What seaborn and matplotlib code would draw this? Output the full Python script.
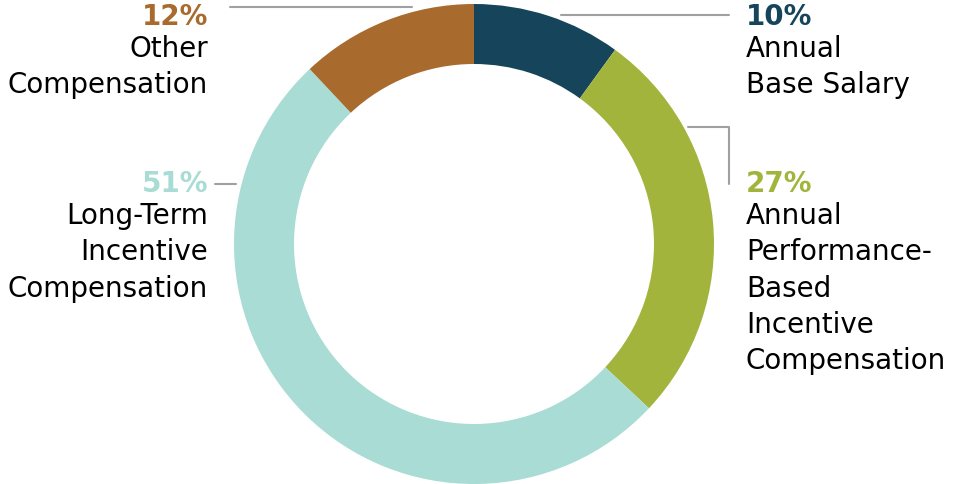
import matplotlib
matplotlib.use("Agg")
import matplotlib.pyplot as plt
import seaborn as sns

sns.set_style("white")
plt.rcParams['font.family'] = ['DejaVu Sans']

# Data
labels = ["Annual\nBase Salary",
          "Annual\nPerformance-\nBased\nIncentive\nCompensation",
          "Long-Term\nIncentive\nCompensation",
          "Other\nCompensation"]
shares = [10, 27, 51, 12]
colors = ["#16455b", "#a2b43c", "#a8dcd4", "#a86b2d"]

W, H = 954, 484
fig = plt.figure(figsize=(W / 100, H / 100), dpi=100)
ax = fig.add_axes([0, 0, 1, 1])

cx, cy, r = 474, 240, 240
ax.pie(shares, colors=colors, startangle=90, counterclock=False,
       radius=r, center=(cx, cy),
       wedgeprops=dict(width=60, edgecolor="none", linewidth=0))
ax.set_xlim(0, W)
ax.set_ylim(0, H)
ax.set_aspect("equal")
ax.axis("off")

fs = 20
line_c = "#a0a0a0"

def py(y):
    # pixel row -> data y
    return H - y

# leader lines
ax.plot([561, 729], [py(15), py(15)], color=line_c, lw=1.5)
ax.plot([230, 412], [py(7), py(7)], color=line_c, lw=1.5)
ax.plot([688, 729, 729], [py(127), py(127), py(184)], color=line_c, lw=1.5)
ax.plot([215, 236], [py(184), py(184)], color=line_c, lw=1.5)

# label positions: (x, pct y, align)
pos = [(746, 17, "left"), (746, 184, "left"), (208, 184, "right"), (208, 17, "right")]
for (x, y, ha), lab, pct, c in zip(pos, labels, shares, colors):
    ax.text(x, py(y), f"{pct}%", ha=ha, va="center", fontsize=fs,
            fontweight="bold", color=c)
    ax.text(x, py(y + 18), lab, ha=ha, va="top", fontsize=fs,
            color="black", linespacing=1.38, multialignment=ha)

fig.savefig("out.png", dpi=100)
